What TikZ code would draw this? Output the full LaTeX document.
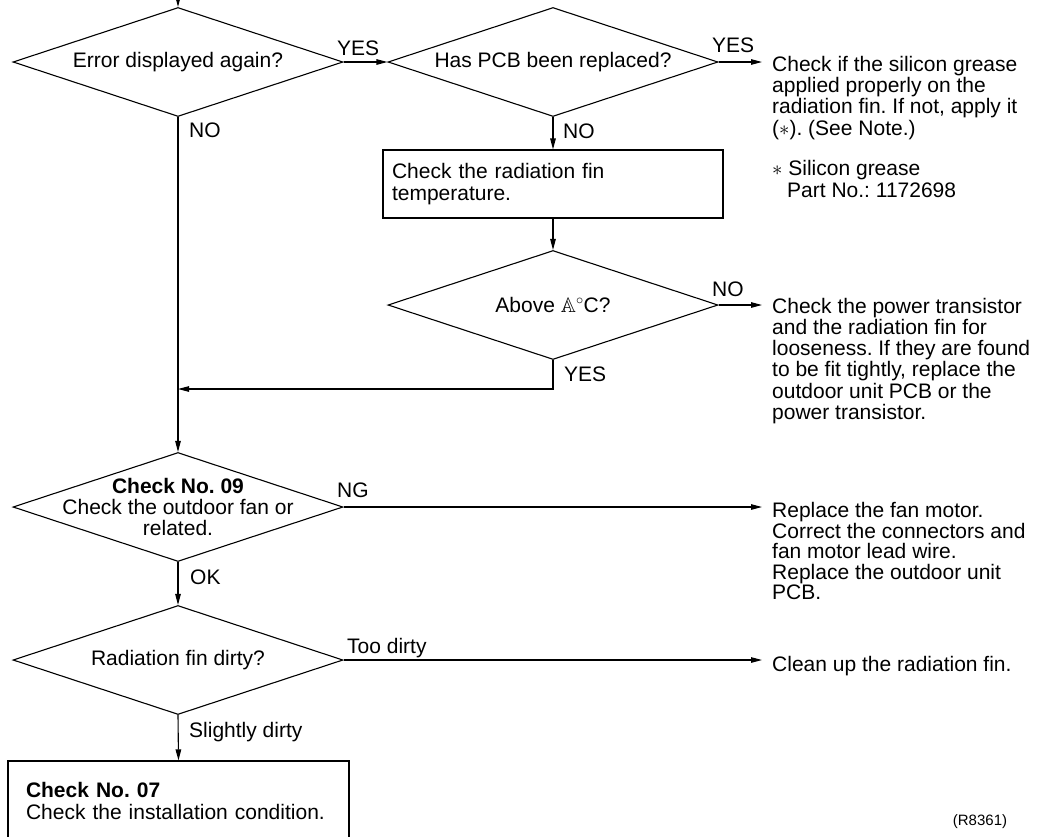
\documentclass[tikz,border=0pt]{standalone}
\usepackage{amssymb}
\usepackage{fontspec}
\setmainfont{Liberation Sans}
\usetikzlibrary{arrows.meta,positioning,shapes.geometric}
\newcommand\tightlines{\fontsize{21}{19.5}\selectfont\lineskiplimit-50pt\relax}
\frenchspacing

\begin{document}
\begin{tikzpicture}[
    x=1pt,y=-1pt,
    every node/.style={font=\fontsize{21}{21.3}\selectfont},
    decision/.style={diamond,draw,line width=1.1pt,minimum width=330pt,minimum height=109pt,shape aspect=3,inner sep=-30pt,align=center},
    process/.style={draw,line width=1.1pt,align=left,inner ysep=0pt},
    flow/.style={-{Triangle[length=11pt,width=5.5pt]},line width=1.1pt},
    tag/.style={anchor=base west,inner sep=0pt},
    note/.style={anchor=base west,inner sep=0pt,align=left}
]
\useasboundingbox (0,0) rectangle (1046,836);

% Decisions and checks
\node[decision] (err)   at (178,62)  {Error displayed again?};
\node[decision] (pcb)   at (553,62)  {Has PCB been replaced?};
\node[process,text width=322pt,inner xsep=9pt,minimum height=68pt] (fin) at (553,184) {Check the radiation fin\\temperature.};
\node[decision] (temp)  at (553,305) {Above $\mathbb{A}^{\circ}$C?};
\node[decision] (fan)   at (178,507) {\textbf{Check No. 09}\\Check the outdoor fan or\\related.};
\node[decision] (dirty) at (178,660) {Radiation fin dirty?};
\node[process,text width=305pt,inner xsep=18pt,minimum height=80pt] (inst) at (178.5,801) {\textbf{Check No. 07}\\Check the installation condition.};

% Remedies on the right (base = last line)
\node[note] (grease) at (772,135) {Check if the silicon grease\\applied properly on the\\radiation fin. If not, apply it\\($\ast$). (See Note.)};
\node[note] (part)   at (772,197) {$\ast$ Silicon grease\\\hspace*{15pt}Part No.: 1172698};
\node[note] (loose)  at (772,419.5) {Check the power transistor\\and the radiation fin for\\looseness. If they are found\\to be fit tightly, replace the\\outdoor unit PCB or the\\power transistor.};
\node[note,font=\tightlines] (motor) at (772,599) {Replace the fan motor.\\[2pt]Correct the connectors and\\fan motor lead wire.\\[2pt]Replace the outdoor unit\\PCB.};
\node[note] (clean)  at (772,671) {Clean up the radiation fin.};

% Branch labels
\node[tag] (yesA)     at (337,55)  {YES};
\node[tag] (yesB)     at (712,52)  {YES};
\node[tag] (noA)      at (189,137) {NO};
\node[tag] (noB)      at (563,138) {NO};
\node[tag] (noC)      at (712,296) {NO};
\node[tag] (yesC)     at (564,381) {YES};
\node[tag] (ng)       at (337,497) {NG};
\node[tag] (ok)       at (190,584) {OK};
\node[tag] (toodirty) at (347,653) {Too dirty};
\node[tag] (slightly) at (189,737) {Slightly dirty};

\node[font=\fontsize{15}{15}\selectfont,anchor=base] (code) at (980,825) {(R8361)};

\coordinate (start)     at (178,0);
\coordinate (merge)     at (178,389);
\coordinate (greaseend) at (762,62);
\coordinate (loosend)   at (762,305);
\coordinate (motorend)  at (762,507);
\coordinate (cleanend)  at (762,660);

% Flow
\draw[flow] (start) -- (err.north);
\draw[flow] (err.east) -- (pcb.west);
\draw[flow] (pcb.east) -- (greaseend);
\draw[flow] (pcb.south) -- (fin.north);
\draw[flow] (fin.south) -- (temp.north);
\draw[flow] (temp.east) -- (loosend);
\draw[flow] (temp.south) |- (merge);
\draw[flow] (err.south) -- (fan.north);
\draw[flow] (fan.east) -- (motorend);
\draw[flow] (fan.south) -- (dirty.north);
\draw[flow] (dirty.east) -- (cleanend);
\draw[flow] (dirty.south) -- (inst.north);
\end{tikzpicture}
\end{document}
